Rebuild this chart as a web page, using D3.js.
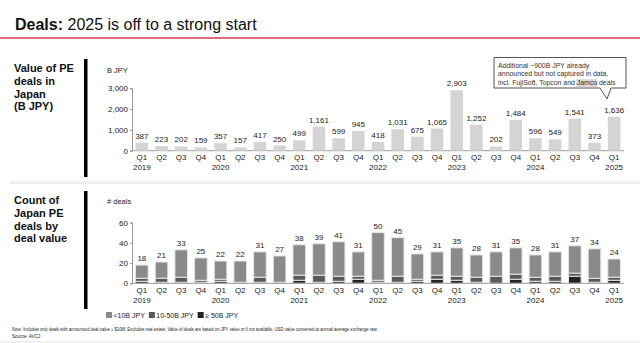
<!DOCTYPE html>
<html>
<head>
<meta charset="utf-8">
<script src="https://cdn.jsdelivr.net/npm/d3@7"></script>
<style>
  body { margin: 0; background: #fff; }
  svg { display: block; font-family: Arial, "Liberation Sans", sans-serif; }
</style>
</head>
<body>
<div id="chart"></div>
<script>
const quarters = ["Q1", "Q2", "Q3", "Q4", "Q1", "Q2", "Q3", "Q4", "Q1", "Q2", "Q3", "Q4", "Q1", "Q2", "Q3", "Q4",
    "Q1", "Q2", "Q3", "Q4", "Q1", "Q2", "Q3", "Q4", "Q1"];
const years = ["2019", "", "", "", "2020", "", "", "", "2021", "", "", "", "2022", "", "", "", "2023", "", "", "", "2024", "", "", "", "2025"];

// deal value, B JPY
const dealValue = [387, 223, 202, 159, 357, 157, 417, 250, 499, 1161, 599, 945, 418, 1031, 675, 1065,
    2903, 1252, 202, 1484, 596, 549, 1541, 373, 1636];

// deal counts by size bucket
const countSmall = [13, 16, 27, 22, 18, 21, 25, 26, 30, 31, 34, 24, 47, 38, 25, 23, 28, 22, 24, 26, 22, 24, 27, 29, 18];
const countMid = [3, 4, 5, 2, 2, 1, 5, 1, 5, 7, 5, 3, 2, 6, 2, 4, 4, 5, 7, 5, 4, 5, 3, 4, 3];
const countLarge = [2, 1, 1, 1, 2, 0, 1, 0, 3, 1, 2, 4, 1, 1, 2, 4, 3, 1, 0, 4, 2, 2, 7, 1, 3];

const valueTicks = [0, 1000, 2000, 3000];
const countTicks = [0, 20, 40, 60];
const buckets = ["<10B JPY", "10-50B JPY", "≥ 50B JPY"];
const bucketColors = ["#8a8a8a", "#595959", "#222222"];

const W = 640, H = 343;
const svg = d3.select("#chart").append("svg").attr("width", W).attr("height", H);

// title + red rule
const title = svg.append("text").attr("x", 15).attr("y", 30).attr("font-size", 16).attr("fill", "#111");
title.append("tspan").attr("font-weight", "bold").text("Deals:");
title.append("tspan").text(" 2025 is off to a strong start");
svg.append("rect").attr("x", 0).attr("y", 37).attr("width", W).attr("height", 2).attr("fill", "#e07078");

// section divider
svg.append("rect").attr("x", 10).attr("y", 181).attr("width", W - 10).attr("height", 3).attr("fill", "#f0f0f0");
svg.append("rect").attr("x", 0).attr("y", 341).attr("width", W).attr("height", 2).attr("fill", "#f0f0f0");

// section labels
function sideLabel(lines, y0, barTop, barBottom) {
    const t = svg.append("text").attr("font-size", 11).attr("font-weight", "bold").attr("fill", "#111");
    lines.forEach((l, i) => t.append("tspan").attr("x", 14).attr("y", y0 + i * 12.8).text(l));
    svg.append("rect").attr("x", 84).attr("y", barTop).attr("width", 3.5).attr("height", barBottom - barTop).attr("fill", "#000");
}
sideLabel(["Value of PE", "deals in", "Japan", "(B JPY)"], 72, 59, 177);
sideLabel(["Count of", "Japan PE", "deals by", "deal value"], 204, 191, 309);

const x = d3.scaleBand().domain(d3.range(dealValue.length)).range([132, 624]).paddingInner(0.36).paddingOuter(0.18);

function xLabels(yQ) {
    const g = svg.append("g").attr("font-size", 8).attr("fill", "#222").attr("text-anchor", "middle");
    quarters.forEach((q, i) => {
        const cx = x(i) + x.bandwidth() / 2;
        g.append("text").attr("x", cx).attr("y", yQ).attr("fill", "#222").text(q);
        if (years[i]) g.append("text").attr("x", cx).attr("y", yQ + 9.5).attr("fill", "#222").text(years[i]);
    });
}

function yAxis(scale, ticks, fmt) {
    const g = svg.append("g").attr("transform", "translate(132,0)")
        .call(d3.axisLeft(scale).tickValues(ticks).tickSize(2).tickPadding(2).tickFormat(fmt));
    g.select(".domain").attr("stroke", "#999");
    g.selectAll(".tick line").attr("stroke", "#999");
    g.selectAll(".tick text").attr("font-size", 8).attr("fill", "#222").attr("font-family", "Arial, 'Liberation Sans', sans-serif");
}

// --- value chart ---
const yVal = d3.scaleLinear().domain([0, 3000]).range([150.7, 88.3]);
svg.append("text").attr("x", 107).attr("y", 73).attr("font-size", 7.5).attr("fill", "#222").text("B JPY");
yAxis(yVal, valueTicks, d3.format(","));
svg.append("line").attr("x1", 132).attr("x2", 624).attr("y1", yVal(0)).attr("y2", yVal(0)).attr("stroke", "#999");

svg.append("g").selectAll("rect").data(dealValue).join("rect")
    .attr("x", (d, i) => x(i)).attr("width", x.bandwidth())
    .attr("y", d => yVal(d)).attr("height", d => yVal(0) - yVal(d))
    .attr("fill", "#d4d4d4");
svg.append("g").selectAll("text").data(dealValue).join("text")
    .attr("x", (d, i) => x(i) + x.bandwidth() / 2).attr("y", d => yVal(d) - 4)
    .attr("text-anchor", "middle").attr("font-size", 8).attr("fill", "#222")
    .text(d => d3.format(",")(d));
xLabels(160);

// callout
const note = svg.append("g");
note.append("path")
    .attr("d", "M494,57.5 H626 V88 H611 L607,99 L600,88 H494 Z")
    .attr("fill", "#fff").attr("stroke", "#555").attr("stroke-width", 1);
const hl = note.append("rect").attr("fill", "#d8d8d8");
const noteLines = ["Additional ~900B JPY already", "announced but not captured in data,", "incl. FujiSoft, Topcon and Jamco deals"];
const noteText = note.append("text").attr("font-size", 6.9).attr("fill", "#333");
noteLines.forEach((l, i) => noteText.append("tspan").attr("x", 498).attr("y", 67.5 + i * 8.8).text(l));
// shade the word "Jamco"
const last = noteText.selectAll("tspan").nodes()[2];
const k = noteLines[2].indexOf("Jamco");
const hx = last.getStartPositionOfChar(k).x;
const hw = last.getEndPositionOfChar(k + 4).x - hx;
hl.attr("x", hx - 0.5).attr("y", 67.5 + 17.6 - 6).attr("width", hw + 1).attr("height", 8);

// --- count chart ---
const yCnt = d3.scaleLinear().domain([0, 60]).range([283.3, 222.5]);
svg.append("text").attr("x", 107).attr("y", 204).attr("font-size", 7.5).attr("fill", "#222").text("# deals");
yAxis(yCnt, countTicks, d3.format("d"));

const rows = dealValue.map((_, i) => ({ i, large: countLarge[i], mid: countMid[i], small: countSmall[i] }));
const stack = d3.stack().keys(["large", "mid", "small"])(rows);
const stackColor = { large: bucketColors[2], mid: bucketColors[1], small: bucketColors[0] };

svg.append("g").selectAll("g").data(stack).join("g")
    .attr("fill", s => stackColor[s.key])
    .selectAll("rect").data(s => s.filter(d => d[1] > d[0])).join("rect")
    .attr("x", d => x(d.data.i)).attr("width", x.bandwidth())
    .attr("y", d => yCnt(d[1])).attr("height", d => yCnt(d[0]) - yCnt(d[1]))
    .attr("stroke", "#e6e6e6").attr("stroke-width", 1);
svg.append("line").attr("x1", 132).attr("x2", 624).attr("y1", yCnt(0)).attr("y2", yCnt(0)).attr("stroke", "#999");

svg.append("g").selectAll("text").data(rows).join("text")
    .attr("x", d => x(d.i) + x.bandwidth() / 2)
    .attr("y", d => yCnt(d.large + d.mid + d.small) - 4)
    .attr("text-anchor", "middle").attr("font-size", 8).attr("fill", "#222")
    .text(d => d.large + d.mid + d.small);
xLabels(293);

// legend, laid out left to right by measured text width
const legend = svg.append("g");
let lx = 106;
buckets.forEach((b, i) => {
    legend.append("rect").attr("x", lx).attr("y", 312).attr("width", 6).attr("height", 6).attr("fill", bucketColors[i]);
    const t = legend.append("text").attr("x", lx + 7.5).attr("y", 318).attr("font-size", 7).attr("fill", "#222").text(b);
    lx += 7.5 + t.node().getComputedTextLength() + 4;
});

// footnotes
svg.append("text").attr("x", 12).attr("y", 331).attr("font-size", 4.6).attr("fill", "#222")
    .attr("textLength", 365).attr("lengthAdjust", "spacingAndGlyphs")
    .text("Note: Includes only deals with announced deal value ≥ $10M; Excludes real estate; Value of deals are based on JPY value or if not available, USD value converted at annual average exchange rate");
svg.append("text").attr("x", 12).attr("y", 337.5).attr("font-size", 4.6).attr("fill", "#222").text("Source: AVCJ");
</script>
</body>
</html>
